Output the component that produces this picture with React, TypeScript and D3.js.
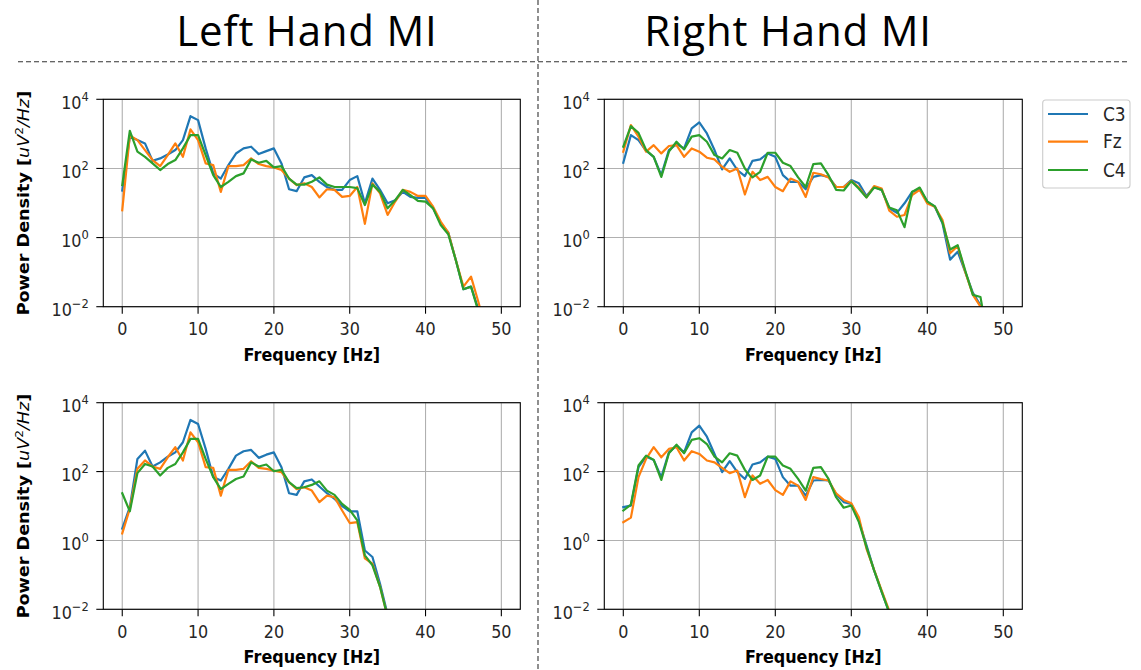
import React from "react";
import * as d3 from "d3";

// Power spectral density (uV^2/Hz) sampled at 1 Hz steps, index = frequency in Hz.
const channels = ["C3", "Fz", "C4"];
const channelColors = ["#1f77b4", "#ff7f0e", "#2ca02c"];
const xTicks = [0, 10, 20, 30, 40, 50];
const yTickExponents = [-2, 0, 2, 4];
const columnTitles = ["Left Hand MI", "Right Hand MI"];

// Left hand MI, broadband
const leftBroadC3 = [23, 830, 660, 530, 166, 195, 254, 340, 660, 3250, 2500, 380, 72, 51, 125, 270, 380, 425, 260, 317, 380, 140, 25, 22, 55, 64, 41, 29, 24, 24, 46, 60, 9.8, 51, 24, 9.8, 12, 21, 15, 14, 14, 7, 2.6, 1.4, 0.22, 0.032, 0.038, 0.008, 0.002];
const leftBroadFz = [6.2, 900, 660, 340, 175, 117, 243, 530, 217, 1350, 660, 140, 125, 21, 117, 117, 125, 195, 134, 117, 107, 90, 51, 33, 37, 29, 14.5, 25, 24, 15, 16, 29, 2.5, 37, 19, 4.5, 11, 24, 21, 16, 16, 7.8, 2.9, 1.4, 0.22, 0.038, 0.074, 0.013, 0.002];
const leftBroadC4 = [33, 1230, 305, 217, 140, 90, 134, 175, 380, 920, 920, 243, 64, 29, 41, 60, 72, 182, 146, 166, 107, 117, 51, 34, 34, 41, 55, 34, 29, 29, 29, 27, 8.7, 34, 21, 7, 12, 24, 17, 11.5, 11, 7, 2.3, 1.25, 0.22, 0.032, 0.038, 0.007, 0.001];

// Right hand MI, broadband
const rightBroadC3 = [146, 920, 660, 325, 217, 64, 340, 505, 380, 1450, 2150, 1030, 340, 94, 195, 90, 60, 166, 182, 272, 217, 64, 41, 41, 25, 57, 64, 57, 29, 29, 46, 37, 16, 29, 24, 7, 5.2, 9.8, 21, 25, 11, 7.8, 2.6, 0.23, 0.39, 0.1, 0.025, 0.011, 0.002];
const rightBroadFz = [305, 1790, 830, 305, 470, 272, 445, 470, 217, 380, 305, 204, 182, 112, 80, 100, 17.6, 80, 46, 57, 29, 22, 51, 41, 15, 75, 68, 55, 29, 29, 44, 28, 14.5, 31, 26, 6, 4, 4.5, 17, 24, 9.7, 7.8, 3.2, 0.35, 0.57, 0.1, 0.022, 0.01, 0.002];
const rightBroadC4 = [425, 1670, 1070, 340, 217, 57, 305, 590, 355, 830, 920, 590, 243, 195, 340, 284, 100, 55, 80, 284, 284, 146, 117, 55, 29, 134, 140, 64, 24, 23, 43, 26, 14.5, 28, 24, 7.4, 6.2, 2.0, 21, 28, 11, 8, 2.7, 0.45, 0.6, 0.11, 0.022, 0.019, 0.001];

// Left hand MI, band-limited
const leftBandC3 = [2.2, 9.3, 233, 405, 140, 185, 270, 360, 710, 3150, 2400, 455, 69, 55, 120, 290, 390, 425, 250, 310, 360, 134, 23.5, 21, 52, 59, 37, 23.5, 16, 10, 7, 7, 0.51, 0.33, 0.055, 0.007];
const leftBandFz = [1.6, 8.3, 120, 210, 140, 120, 260, 510, 210, 1380, 710, 134, 128, 20, 112, 112, 120, 200, 128, 120, 107, 96, 49, 31, 35, 28, 13, 20, 18, 7.4, 3.2, 3.4, 0.3, 0.21, 0.045, 0.006];
const leftBandC4 = [23.5, 7, 90, 166, 140, 77, 128, 166, 360, 890, 890, 233, 69, 31, 44, 61, 72, 185, 140, 160, 102, 112, 49, 33, 35, 41, 52, 28, 21, 11.5, 7.7, 3.8, 0.37, 0.19, 0.045, 0.006];

// Right hand MI, band-limited
const rightBandC3 = [9.3, 10.3, 134, 272, 218, 69, 360, 565, 360, 1380, 2150, 1030, 325, 96, 200, 96, 61, 160, 185, 272, 233, 69, 39, 39, 20, 55, 57, 55, 22, 13, 11.5, 3.8, 0.72, 0.135, 0.032, 0.008];
const rightBandFz = [3.4, 4.6, 69, 233, 510, 260, 455, 510, 210, 390, 325, 210, 185, 128, 90, 107, 18, 77, 44, 57, 29, 21, 52, 39, 15, 69, 61, 55, 23.5, 15, 12, 4.7, 0.57, 0.14, 0.035, 0.009];
const rightBandC4 = [7.4, 11, 150, 290, 218, 57, 340, 605, 340, 830, 930, 630, 272, 185, 340, 290, 112, 57, 77, 272, 272, 150, 120, 61, 28, 128, 134, 61, 18, 8.9, 10.3, 3.4, 0.64, 0.135, 0.032, 0.008];

const panelLayout = [
  { id: "tl", left: 103.3, top: 99.3, width: 417, height: 207.4, series: [leftBroadC3, leftBroadFz, leftBroadC4], yLabel: true },
  { id: "tr", left: 604.3, top: 99.3, width: 418, height: 207.4, series: [rightBroadC3, rightBroadFz, rightBroadC4], yLabel: false },
  { id: "bl", left: 103.3, top: 402.7, width: 417, height: 206.6, series: [leftBandC3, leftBandFz, leftBandC4], yLabel: true },
  { id: "br", left: 604.3, top: 402.7, width: 418, height: 206.6, series: [rightBandC3, rightBandFz, rightBandC4], yLabel: false },
];

const FONT = "'DejaVu Sans', sans-serif";
const TITLE_FONT = "'Open Sans', sans-serif";
const STRETCH = 1.1;

function Panel({ id, left, top, width, height, series, yLabel }: any) {
  const x = d3.scaleLinear().domain([-2.5, 52.5]).range([left, left + width]);
  const y = d3.scaleLog().domain([1e-2, 1e4]).range([top + height, top]);
  const line = d3
    .line<number>()
    .x((_, i) => x(i))
    .y((d) => y(d));
  const bottom = top + height;
  const clipId = `clip-${id}`;
  return (
    <g>
      <defs>
        <clipPath id={clipId}>
          <rect x={left} y={top} width={width} height={height} />
        </clipPath>
      </defs>
      {/* grid */}
      {xTicks.map((t) => (
        <line key={`gx${t}`} x1={x(t)} x2={x(t)} y1={top} y2={bottom} stroke="#b0b0b0" strokeWidth={1.1} />
      ))}
      {yTickExponents.map((e) => (
        <line key={`gy${e}`} x1={left} x2={left + width} y1={y(Math.pow(10, e))} y2={y(Math.pow(10, e))} stroke="#b0b0b0" strokeWidth={1.1} />
      ))}
      {/* spectra */}
      <g clipPath={`url(#${clipId})`}>
        {series.map((s: number[], i: number) => (
          <path key={channels[i]} d={line(s) || ""} fill="none" stroke={channelColors[i]} strokeWidth={2.2} strokeLinejoin="round" strokeLinecap="square" />
        ))}
      </g>
      {/* frame */}
      <rect x={left} y={top} width={width} height={height} fill="none" stroke="#000" strokeWidth={1.1} />
      {/* x ticks */}
      {xTicks.map((t) => (
        <g key={`xt${t}`}>
          <line x1={x(t)} x2={x(t)} y1={bottom} y2={bottom + 7} stroke="#000" strokeWidth={1.1} />
          <g transform={`translate(${x(t)},${bottom + 28.5}) scale(1,${STRETCH})`}>
            <text x={0} y={0} textAnchor="middle" fontSize={16} fontFamily={FONT} fill="#262626">
              {t}
            </text>
          </g>
        </g>
      ))}
      {/* y ticks */}
      {yTickExponents.map((e) => {
        const ty = y(Math.pow(10, e));
        return (
          <g key={`yt${e}`}>
            <line x1={left - 7} x2={left} y1={ty} y2={ty} stroke="#000" strokeWidth={1.1} />
            <g transform={`translate(${left - 14.5},${ty + 9.5}) scale(1,${STRETCH})`}>
              <text x={0} y={0} textAnchor="end" fontSize={16} fontFamily={FONT} fill="#262626">
                <tspan>10</tspan>
                <tspan fontSize={11.5} dy={-7.5}>
                  {e < 0 ? `\u2212${-e}` : `${e}`}
                </tspan>
              </text>
            </g>
          </g>
        );
      })}
      {/* axis labels */}
      <g transform={`translate(${left + width / 2},${bottom + 54}) scale(1,${STRETCH})`}>
        <text x={0} y={0} textAnchor="middle" fontSize={16} fontWeight="bold" fontFamily={FONT} fill="#000">
          Frequency [Hz]
        </text>
      </g>
      {yLabel && (
        <g transform={`translate(29,${top + height / 2}) scale(1,${STRETCH}) rotate(-90)`}>
          <text x={0} y={0} textAnchor="middle" fontSize={16} fontWeight="bold" fontFamily={FONT} fill="#000">
            Power Density [
            <tspan fontStyle="italic" fontWeight="normal">uV</tspan>
            <tspan fontWeight="normal" fontSize={11} dy={-6.5}>2</tspan>
            <tspan fontStyle="italic" fontWeight="normal" dy={6.5}>/Hz</tspan>]
          </text>
        </g>
      )}
    </g>
  );
}

function Legend() {
  const rowY = [114, 141.7, 170];
  return (
    <g>
      <rect x={1042.7} y={100} width={87.3} height={88} rx={3} fill="#fff" stroke="#cccccc" strokeWidth={1.1} />
      {channels.map((c, i) => (
        <g key={c}>
          <line x1={1048} x2={1088} y1={rowY[i]} y2={rowY[i]} stroke={channelColors[i]} strokeWidth={2.2} />
          <g transform={`translate(1103,${rowY[i] + 6.5}) scale(1,${STRETCH})`}>
            <text x={0} y={0} fontSize={17} fontFamily={FONT} fill="#262626">
              {c}
            </text>
          </g>
        </g>
      ))}
    </g>
  );
}

export default function App() {
  return (
    <svg
      width={1141}
      height={670}
      viewBox="0 0 1141 670"
      style={{ position: "absolute", left: 0, top: 0, display: "block", background: "#fff" }}
    >
      <rect x={0} y={0} width={1141} height={670} fill="#fff" />
      {/* column headings */}
      <text x={307} y={46} textAnchor="middle" fontSize={42} letterSpacing={0.8} fontFamily={TITLE_FONT} fill="#000">
        {columnTitles[0]}
      </text>
      <text x={788} y={46} textAnchor="middle" fontSize={42} letterSpacing={0.8} fontFamily={TITLE_FONT} fill="#000">
        {columnTitles[1]}
      </text>
      {/* separators */}
      <line x1={18} x2={1127} y1={61.7} y2={61.7} stroke="#333" strokeWidth={1.1} strokeDasharray="5 3" />
      <line x1={538} x2={538} y1={0} y2={670} stroke="#333" strokeWidth={1.1} strokeDasharray="5 3" />
      {panelLayout.map((p) => (
        <Panel key={p.id} {...p} />
      ))}
      <Legend />
    </svg>
  );
}
